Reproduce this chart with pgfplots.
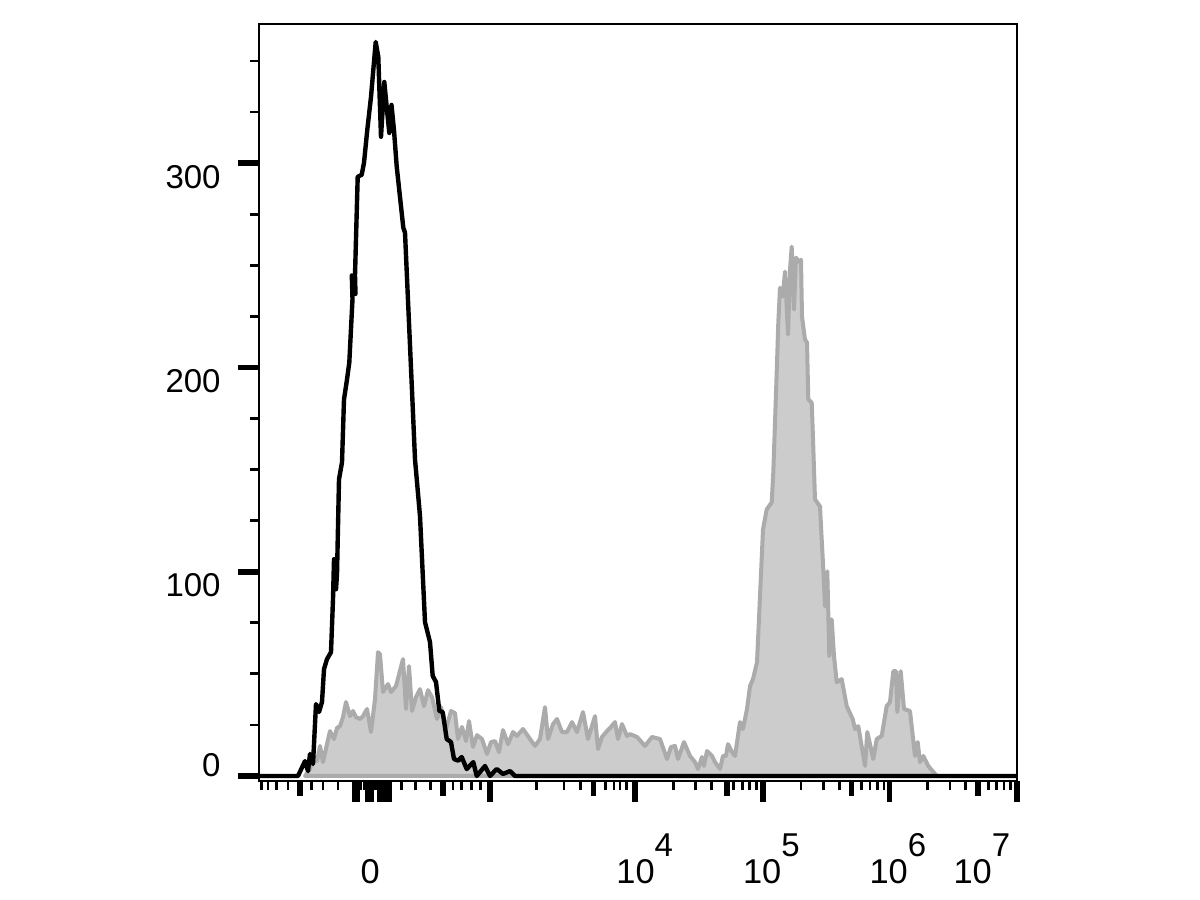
\documentclass[border=0pt]{standalone}
\usepackage{pgfplots}
\pgfplotsset{compat=1.18}
\usepackage{fontspec}
\setmainfont{Liberation Sans}

\definecolor{fillgrey}{gray}{0.80}
\definecolor{linegrey}{gray}{0.67}

% exponent label of the biexponential x axis
\newcommand{\dec}[2]{\makebox[0pt][l]{\hspace*{#1}10\raisebox{13.3pt}{\fontsize{16.5}{17}\selectfont #2}}}

\begin{document}
\begin{tikzpicture}
\path[use as bounding box] (0,0) rectangle (600pt,450pt);
\begin{axis}[
    at={(129.5pt,59.5pt)}, anchor=south west,
    width=379pt, height=378.5pt, scale only axis,
    xmin=259, xmax=1017,
    ymin=-2.45, ymax=368.1,
    axis line style={line width=0.9pt},
    tick align=outside,
    xtick pos=lower, ytick pos=left,
    major tick length=10.5pt, minor tick length=4.5pt,
    major tick style={line width=2.8pt, black},
    minor tick style={line width=1.4pt, black},
    font=\fontsize{16.5}{18}\selectfont,
    ytick={0,100,200,300},
    yticklabels={\raisebox{12.5pt}{0},100,200,300},
    minor ytick={25,50,75,125,150,175,225,250,275,325,350},
    yticklabel style={anchor=base east, inner sep=0pt, yshift=-12.6pt, xshift=-8.5pt},
    xtick={354.5,357.5,368,371,380,386,389,490,635,762.7,889.3,1016.7},
    xticklabels={,,,\makebox[0pt][l]{\hspace*{-5.2pt}0},,,,,\dec{-9.3pt}{4},\dec{-9.8pt}{5},\dec{-9.9pt}{6},\dec{-31.6pt}{7}},
    xticklabel style={anchor=base, inner sep=0pt, yshift=-40.6pt, font=\fontsize{17.2}{18}\selectfont},
    minor xtick={261.7,268,276.7,288,311.7,323,338,
        361,364,374.5,377,383,
        401.7,415.7,430.7,453,461.7,471.7,480.7,
        536.7,564,580.7,605.7,614,620,626.7,
        673.2,695.6,711.5,733.8,742.3,749.7,756.2,
        800.9,823.3,839.2,861.5,870.0,877.4,883.9,
        927.5,949.9,965.8,988.1,996.6,1004.0,1010.5},
    extra x ticks={300,442.7,593.3,726.7,851.5,978.1},
    extra x tick labels={},
    extra x tick style={major tick length=7.5pt},
]

% stained sample (grey, filled)
\addplot[draw=linegrey, fill=fillgrey, line width=2pt, line join=round] coordinates {
(305,0) (310,3.4) (314,9.8) (317,7.3) (320,14.7) (323,6.8) (327,15.6) (330,22.0)
(334,18.1) (337,23.5) (340,24.4) (343,28.8) (346,36.2) (350,29.3) (353,31.8) (356,28.8)
(360,27.9) (363,29.3) (367,32.8) (371,21.5) (375,37.6) (378,60.6) (380,59.6) (383,41.1)
(388,45.0) (391,41.1) (396,44.0) (403,57.2) (406,32.8) (409,53.8) (412,31.8) (416,38.6)
(420,42.5) (424,34.2) (428,42.0) (432,38.6) (437,27.9) (441,33.7) (446,23.0) (451,31.8)
(455,30.8) (458,18.1) (462,24.0) (466,17.1) (469,26.9) (473,14.2) (477,20.0) (482,18.1)
(487,10.8) (491,16.6) (495,17.1) (499,11.7) (503,22.5) (508,15.6) (513,21.5) (517,19.6)
(523,23.0) (530,18.1) (535,14.7) (540,18.1) (545,33.7) (548,18.1) (553,25.4) (557,27.9)
(562,21.5) (567,21.5) (572,26.4) (577,21.5) (583,31.3) (588,18.1) (595,29.3) (598,13.2)
(602,19.1) (607,22.0) (611,24.0) (615,26.4) (618,18.1) (622,25.4) (627,19.6) (630,20.5)
(637,19.1) (645,14.7) (652,19.1) (660,18.1) (667,8.3) (671,14.2) (675,14.7) (678,8.3)
(684,16.6) (690,9.8) (695,6.8) (698,3.4) (702,9.3) (704,4.9) (707,12.2) (712,9.8)
(715,6.8) (720,3.4) (723,9.8) (726,9.8) (728,15.6) (732,11.7) (735,9.8) (740,26.4)
(743,23.0) (747,32.8) (750,44.0) (753,47.4) (757,55.7) (760,88.0) (763,120.7) (766.7,130.5)
(771.7,133.9) (773.3,148.6) (776.7,197.5) (778.3,221.9) (780,239.0) (782.7,234.6) (785,246.9) (788,216.1)
(790,247.8) (791.7,259.1) (794,228.3) (796,253.7) (799,251.7) (801,252.7) (802,224.9) (805,213.6)
(807,212.2) (808.3,184.3) (811.7,182.8) (812.7,169.6) (815,135.4) (820,132.0) (821.7,115.9) (823.3,101.2)
(825,83.1) (827.3,100.2) (829.3,58.7) (831.7,76.7) (834,58.7) (836.7,45.9) (841.7,47.4) (846.7,34.2)
(852.7,27.9) (855,23.0) (858.3,24.4) (865,4.9) (867.3,21.5) (873.3,8.3) (876.7,18.1) (881.7,19.6)
(886.7,34.2) (890,36.2) (893.3,51.3) (896,51.3) (897.3,31.3) (900.7,51.3) (904,32.8) (910,31.8)
(915,9.8) (917.7,16.6) (920,6.8) (923.3,9.8) (928.3,4.9) (935,1.0) (937,0)
} \closedcycle;

% isotype control (black line)
\addplot[black, line width=2.2pt, line join=round] coordinates {
(259,0) (298,0) (305,7.3) (308,2.4) (310,10.8) (313,5.9) (316,35.2) (319,31.3)
(322,36.2) (324,52.3) (327,57.2) (331,60.6) (333,86.5) (334,106.1) (336,91.4) (337,98.7)
(339,145.2) (342,153.5) (344,184.3) (347,194.1) (349.3,202.4) (352.5,233.5) (351.8,245) (355.5,236)
(355,245) (357.7,293.3) (361.7,294.3) (364,300.2) (367.3,316.3) (371,332.4) (375.7,359.3) (378.3,352.0)
(381,312.9) (384.3,339.7) (386.7,327.5) (389.3,314.8) (391.5,328.5) (394,316) (396.7,298.4) (403.3,268.4)
(405,266) (412.7,180.9) (415,155) (420,127.2) (425,75.3) (430,65.5) (432.7,49) (436,46)
(439.3,31.9) (442.7,31.3) (446.7,18.1) (451,16.6) (454,8.3) (458.3,7.5) (461.7,9.3) (466.7,3.4)
(473.3,6.8) (476.7,0) (485,4.9) (490,0) (496.7,3.4) (503,1) (510,2.4) (515,0)
(1017,0)
};

\end{axis}
\end{tikzpicture}
\end{document}
